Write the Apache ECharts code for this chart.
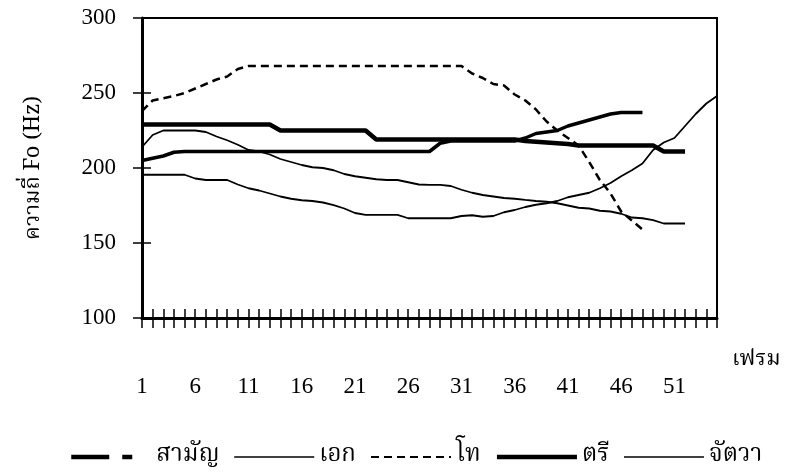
<!DOCTYPE html>
<html>
<head>
<meta charset="utf-8">
<script src="https://cdn.jsdelivr.net/npm/echarts@6/dist/echarts.min.js"></script>
<style>
html,body{margin:0;padding:0;background:#fff;}
#chart{width:786px;height:475px;}
</style>
</head>
<body>
<div id="chart"></div>
<script>
// ---- data ----
const frames = ["1","2","3","4","5","6","7","8","9","10","11","12","13","14","15","16","17","18","19","20","21","22","23","24","25","26","27","28","29","30","31","32","33","34","35","36","37","38","39","40","41","42","43","44","45","46","47","48","49","50","51","52","53","54","55"];
const seriesNames = ["สามัญ", "เอก", "โท", "ตรี", "จัตวา"];
const yTicks = [100, 150, 200, 250, 300];

// สามัญ (mid)
const samanValues = [229,229,229,229,229,229,229,229,229,229,229,229,229,225,225,225,225,225,225,225,225,225,219,219,219,219,219,219,219,219,219,219,219,219,219,219,218,217.5,217,216.5,216,215,215,215,215,215,215,215,215,211,211,211,null,null,null];
// เอก (low)
const ekValues = [214,222,225,225,225,225,224,221,218.5,215.5,212,211,209,206,204,202,200.5,200,198.5,196,194.5,193.5,192.5,192,192,190.5,189,188.7,188.7,188,185.5,183.5,182,181,180,179.5,178.7,178,177.5,176.5,175,173.5,173,171.5,171,169.5,167,166.5,165.3,163,163,163,null,null,null];
// โท (falling)
const thoValues = [238,245,246.5,248,250,253,256,259,261,266,268,268,268,268,268,268,268,268,268,268,268,268,268,268,268,268,268,268,268,268,268,263,260,256,255,249,245,239,231,225,220,215,204,192,183,171,165,159,null,null,null,null,null,null,null];
// ตรี (high)
const triValues = [205,206.5,208,210.5,211,211,211,211,211,211,211,211,211,211,211,211,211,211,211,211,211,211,211,211,211,211,211,211,216.5,218,218,218,218,218,218,218,220,223,224,225,228,230,232,234,236,237,237,237,null,null,null,null,null,null,null];
// จัตวา (rising)
const jattawaValues = [195.5,195.5,195.5,195.5,195.5,193,192,192,192,189,186.5,185,183,181,179.5,178.5,178,177,175.3,173,170,168.7,168.7,168.7,168.7,166.5,166.5,166.5,166.5,166.5,168,168.5,167.5,168,170.5,172,174,175.5,176.5,178,180.5,182,183.5,186.5,190,194.5,198.5,203,212,217,220,228,236,243,248];

const serif = "'Liberation Serif','DejaVu Serif',serif";
const thai = "'Noto Serif Thai','Noto Sans Thai','Noto Sans','DejaVu Sans',sans-serif";

const chart = echarts.init(document.getElementById('chart'), null, {renderer: 'canvas'});

const lineBase = {type: 'line', symbol: 'none', smooth: false, connectNulls: false, animation: false, z: 3};

const option = {
  backgroundColor: '#fff',
  animation: false,
  grid: {left: 142, right: 69, top: 18, bottom: 157, show: true, borderColor: '#000', borderWidth: 2, backgroundColor: 'transparent'},
  legend: {
    bottom: 1, left: 64, width: 722,
    itemWidth: 80, itemHeight: 14, itemGap: 14,
    itemStyle: {opacity: 0, color: 'transparent', borderWidth: 0},
    textStyle: {fontFamily: thai, fontSize: 24, color: '#000'},
    data: [
      {name: seriesNames[0], lineStyle: {type: [38, 13, 10, 200], width: 4.5}},
      {name: seriesNames[1], lineStyle: {width: 1.5}},
      {name: seriesNames[2], lineStyle: {width: 2}},
      {name: seriesNames[3], lineStyle: {width: 4.5}},
      {name: seriesNames[4], lineStyle: {width: 1.5}}
    ]
  },
  xAxis: [{
    type: 'category', data: frames, boundaryGap: false,
    name: 'เฟรม', nameLocation: 'end', nameGap: 15,
    nameTextStyle: {fontFamily: thai, fontSize: 22, color: '#000', verticalAlign: 'top', align: 'left', padding: [32, 0, 0, 0]},
    axisLine: {lineStyle: {color: '#000', width: 3}},
    axisTick: {show: true, interval: 0, length: 10, lineStyle: {color: '#000', width: 1.5}},
    axisLabel: {interval: 4, margin: 57, fontFamily: serif, fontSize: 23, color: '#000'},
    splitLine: {show: false}
  }, {
    type: 'category', data: frames, boundaryGap: false, position: 'bottom',
    axisLine: {show: false},
    axisTick: {show: true, inside: true, interval: 0, length: 9, lineStyle: {color: '#000', width: 1.5}},
    axisLabel: {show: false},
    splitLine: {show: false}
  }],
  yAxis: [{
    type: 'value', min: 100, max: 300, interval: 50,
    name: 'ความถี่ Fo (Hz)', nameLocation: 'middle', nameGap: 96, nameRotate: 90,
    nameTextStyle: {fontFamily: thai, fontSize: 22, color: '#000'},
    axisLine: {show: true, lineStyle: {color: '#000', width: 3}},
    axisTick: {show: true, length: 9, lineStyle: {color: '#000', width: 1.5}},
    axisLabel: {margin: 26, fontFamily: serif, fontSize: 23, color: '#000',
      formatter: v => (yTicks.indexOf(v) >= 0 ? String(v) : '')},
    splitLine: {show: false}
  }, {
    type: 'value', min: 100, max: 300, interval: 50, position: 'left',
    axisLine: {show: false},
    axisTick: {show: true, inside: true, length: 9, lineStyle: {color: '#000', width: 1.5}},
    axisLabel: {show: false},
    splitLine: {show: false}
  }],
  series: [
    Object.assign({}, lineBase, {name: seriesNames[0], data: samanValues, lineStyle: {color: '#000', width: 4.5, type: 'solid'}, itemStyle: {color: '#000'}}),
    Object.assign({}, lineBase, {name: seriesNames[1], data: ekValues, lineStyle: {color: '#000', width: 1.8, type: 'solid'}, itemStyle: {color: '#000'}}),
    Object.assign({}, lineBase, {name: seriesNames[2], data: thoValues, lineStyle: {color: '#000', width: 2.5, type: [8, 5]}, itemStyle: {color: '#000'}}),
    Object.assign({}, lineBase, {name: seriesNames[3], data: triValues, lineStyle: {color: '#000', width: 3.5, type: 'solid'}, itemStyle: {color: '#000'}}),
    Object.assign({}, lineBase, {name: seriesNames[4], data: jattawaValues, lineStyle: {color: '#000', width: 1.8, type: 'solid'}, itemStyle: {color: '#000'}})
  ]
};
chart.setOption(option);
</script>
</body>
</html>
